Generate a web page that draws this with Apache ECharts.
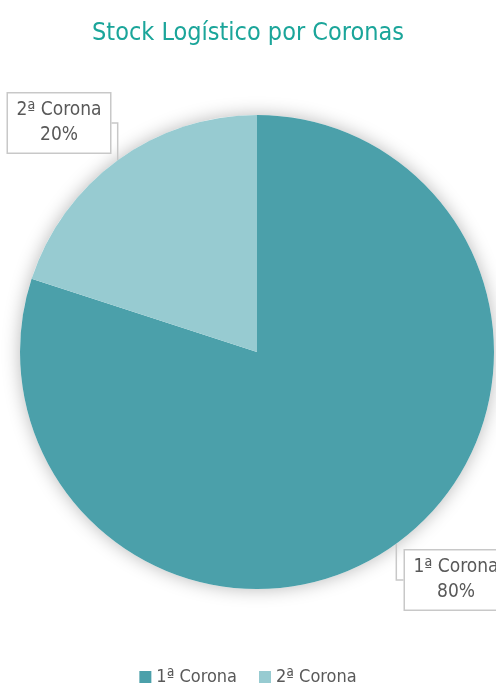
<!DOCTYPE html>
<html>
<head>
<meta charset="utf-8">
<script src="https://cdn.jsdelivr.net/npm/echarts@6/dist/echarts.min.js"></script>
<style>
    html, body { margin: 0; padding: 0; background: #fff; }
    #main { width: 496px; height: 686px; }
</style>
</head>
<body>
<div id="main"></div>
<script>
var categories = ["1ª Corona", "2ª Corona"];
var values = [80, 20];
var colors = ["#4BA0AA", "#97CBD1"];
var font = "'DejaVu Sans Condensed', 'Liberation Sans Narrow', 'Roboto', sans-serif";

var chart = echarts.init(document.getElementById('main'));
chart.setOption({
    title: {
        text: "Stock Logístico por Coronas",
        left: "center",
        top: 16,
        textStyle: {color: "#1BA59A", fontSize: 25, fontWeight: "normal", fontFamily: font}
    },
    legend: {
        data: categories,
        bottom: -5,
        left: "center",
        itemWidth: 12,
        itemHeight: 12,
        itemGap: 22,
        icon: "rect",
        textStyle: {color: "#595959", fontSize: 18, fontFamily: font}
    },
    series: [{
        // soft shadow behind the whole pie
        type: "pie",
        center: [257, 352],
        radius: 237,
        silent: true,
        z: 1,
        label: {show: false},
        labelLine: {show: false},
        data: [{name: "", value: 1, itemStyle: {color: "#fff", shadowBlur: 18, shadowColor: "rgba(0,0,0,0.28)"}}],
        legendHoverLink: false
    }, {
        type: "pie",
        center: [257, 352],
        radius: 237,
        startAngle: 90,
        clockwise: true,
        silent: true,
        z: 2,
        data: categories.map(function (c, i) {
            return {name: c, value: values[i], itemStyle: {color: colors[i]}};
        }),
        label: {
            show: true,
            position: "outside",
            formatter: "{b}\n{d}%",
            overflow: "none",
            alignTo: "none",
            width: 86,
            color: "#595959",
            fontSize: 19,
            lineHeight: 25,
            fontFamily: font,
            align: "center",
            backgroundColor: "#fff",
            borderColor: "#c8c8c8",
            borderWidth: 1.5,
            padding: [5, 8, 4, 8]
        },
        labelLine: {
            show: true,
            length: 10,
            length2: 10,
            lineStyle: {color: "#c8c8c8", width: 1.5}
        },
        labelLayout: function (p) {
            if (p.dataIndex === 0) {
                return {x: 456, y: 580, align: "center", verticalAlign: "middle"};
            }
            return {x: 59, y: 123, align: "center", verticalAlign: "middle"};
        }
    }]
});
</script>
</body>
</html>
